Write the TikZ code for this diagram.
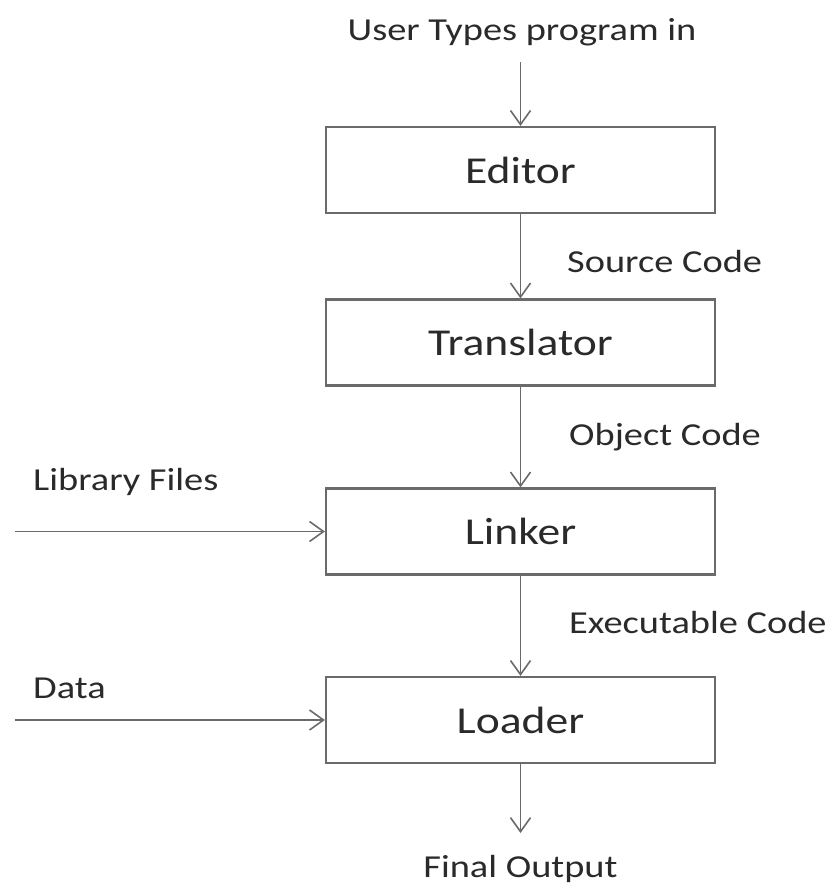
\documentclass[tikz,border=0pt]{standalone}
\usepackage{fontspec}
\setmainfont{Carlito}
\newfontfamily\diafont[FakeStretch=1.2]{Carlito}
\usetikzlibrary{arrows.meta}
\definecolor{linegray}{HTML}{6A6A6A}
\definecolor{txt}{HTML}{2A2A2A}
\tikzset{
  box/.style={draw=linegray, line width=2.2bp, minimum width=389bp, minimum height=86bp,
    inner sep=0pt, text=txt, font=\diafont\fontsize{38bp}{44bp}\selectfont},
  lbl/.style={inner sep=0pt, text=txt, font=\diafont\fontsize{32bp}{38bp}\selectfont},
  flow/.style={draw=linegray, line width=1.6bp, -{Straight Barb[length=14bp,width=20bp,line width=1.6bp]}}
}
\begin{document}
\begin{tikzpicture}[x=1bp,y=-1bp]
\useasboundingbox (0,0) rectangle (834,886);
\node[box] (editor) at (520.5,170) {Editor};
\node[box] (trans) at (520.5,342.5) {Translator};
\node[box] (linker) at (520.5,531.5) {Linker};
\node[box] (loader) at (520.5,720) {Loader};

\node[lbl, anchor=base] (user) at (522,40) {User Types program in};
\node[lbl, anchor=base west] (src) at (567,272) {Source Code};
\node[lbl, anchor=base west] (obj) at (569,445) {Object Code};
\node[lbl, anchor=base west] (exe) at (569,633) {Executable Code};
\node[lbl, anchor=base west] (lib) at (33,490) {Library Files};
\node[lbl, anchor=base west] (data) at (33,698) {Data};
\node[lbl, anchor=base] (final) at (520.5,877) {Final Output};

\coordinate (inTop) at (520.5,62);
\coordinate (outBot) at (520.5,833);
\coordinate (libStart) at (15,531.5);
\coordinate (dataStart) at (15,720);

\draw[flow] (inTop) -- (editor.north);
\draw[flow] (editor) -- (trans);
\draw[flow] (trans) -- (linker);
\draw[flow] (linker) -- (loader);
\draw[flow] (loader) -- (outBot);
\draw[flow] (libStart) -- (linker.west);
\draw[flow] (dataStart) -- (loader.west);
\end{tikzpicture}
\end{document}
